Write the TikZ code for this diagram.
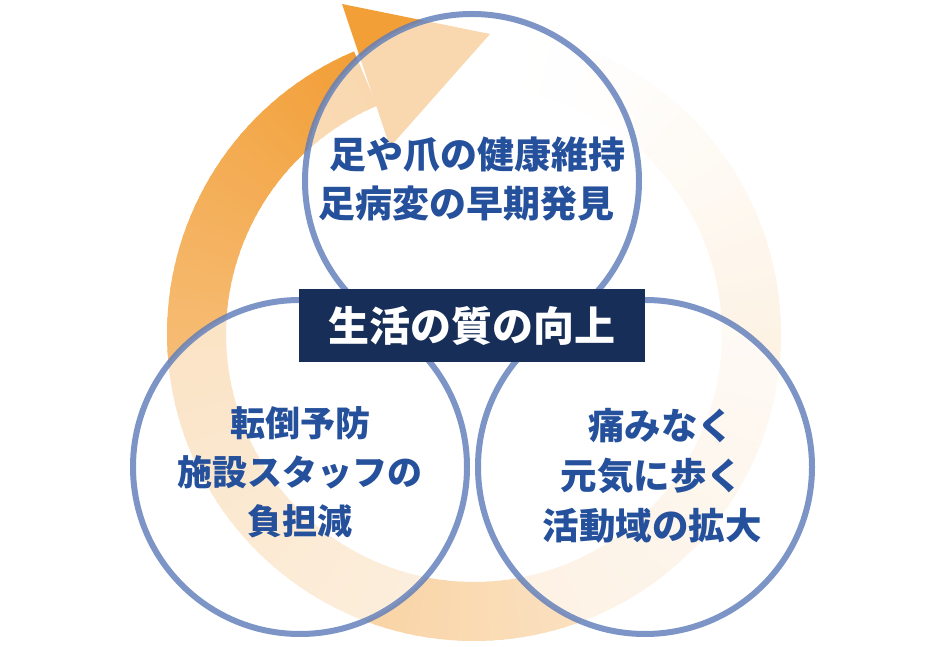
\documentclass[tikz,border=0pt]{standalone}
\usepackage{fontspec}
\newfontfamily\jpfont{Noto Sans CJK JP}
\usepackage{tikz}
\usetikzlibrary{arrows, positioning, shapes}

\definecolor{ringorange}{RGB}{242,159,56}
\definecolor{ringblue}{RGB}{96,126,186}
\definecolor{textblue}{RGB}{37,80,156}
\definecolor{navy}{RGB}{22,46,88}

\tikzset{
	circ/.style={circle, draw=ringblue, draw opacity=0.82, line width=6pt, fill=white, fill opacity=0.6, minimum size=334pt, inner sep=0pt},
	txt/.style={align=center, text=textblue, font=\jpfont\bfseries\fontsize{35}{49}\selectfont},
	headbox/.style={fill=navy, text=white, minimum width=346pt, minimum height=73pt, inner sep=0pt, font=\jpfont\bfseries\fontsize{41}{49}\selectfont}
}

\begin{document}
\begin{tikzpicture}[x=1pt, y=1pt]

\useasboundingbox (0,0) rectangle (950,647);

\foreach \a in {113,115,...,439} {
	\pgfmathsetmacro{\f}{100*(1-(\a-113)/330)^1.5}
	\fill [ringorange!\f!white, shift={(474,313)}] (\a:307) arc (\a:\a+2.6:307) -- (\a+2.6:248) arc (\a+2.6:\a:248) -- cycle;
}
\fill [ringorange] (342,643) -- (490,613) -- (390,500) -- cycle;

\node [circ] (1) at (472,466) {};
\node [circ] (2) at (300,180) {};
\node [circ] (3) at (645,180) {};

\node [txt, font=\jpfont\bfseries\fontsize{37}{49}\selectfont] (4) at (472,468) {
	\hspace*{0.3em}足や爪の健康維持 \\
	足病変の早期発見\hspace*{0.3em}
};

\node [txt] (5) at (300,175) {
	転倒予防 \\
	施設スタッフの \\
	負担減
};

\node [txt, font=\jpfont\bfseries\fontsize{36.5}{50}\selectfont] (6) at (652,171) {
	\hspace*{0.5em}痛みなく \\
	元気に歩く \\
	活動域の拡大
};

\node [headbox] (0) at (472,321) {生活の質の向上};

\end{tikzpicture}
\end{document}
